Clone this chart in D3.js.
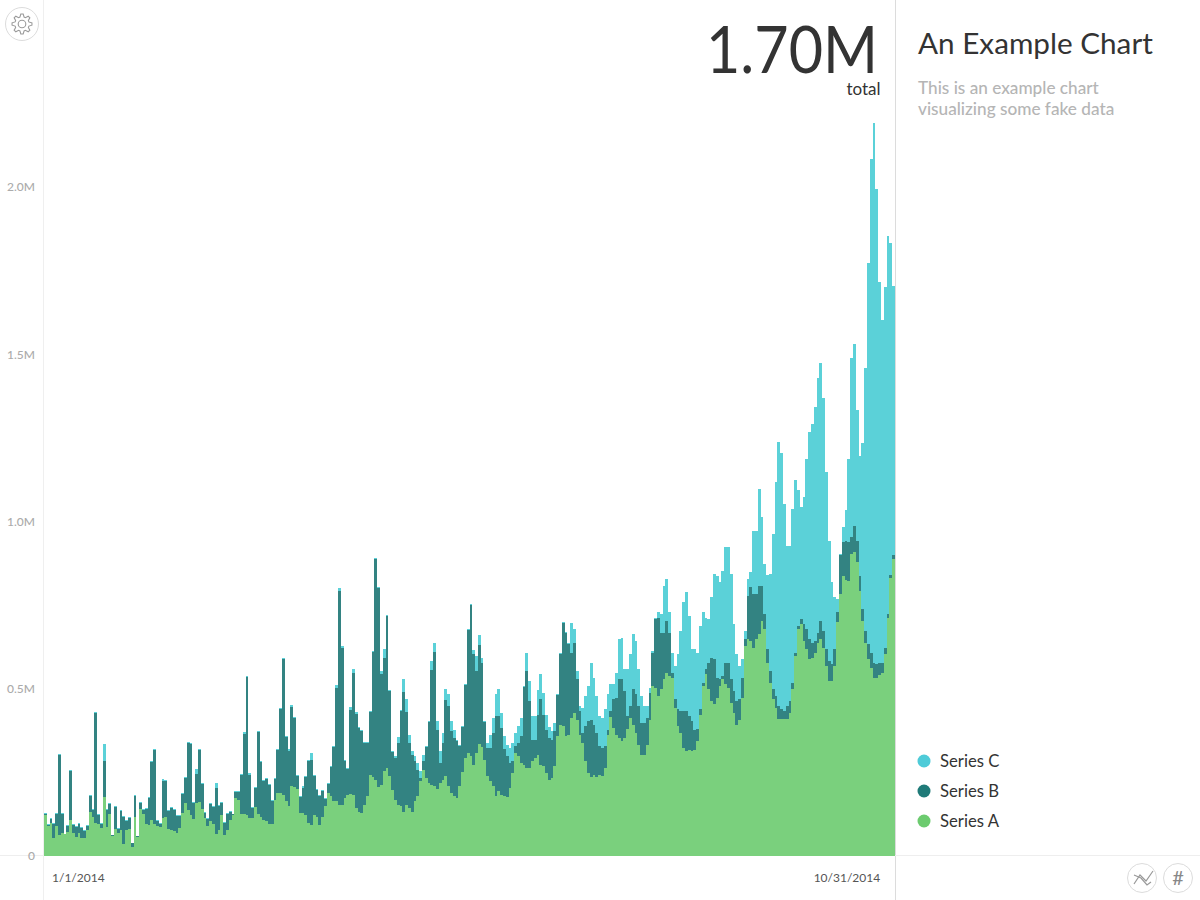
<!DOCTYPE html>
<html><head><meta charset="utf-8">
<script src="https://cdn.jsdelivr.net/npm/d3@7"></script>
<style>
html,body{margin:0;padding:0;background:#fff;overflow:hidden}
svg{display:block}
text{font-family:Lato,"Open Sans",sans-serif}
</style></head><body>
<svg id="chart" width="1200" height="900"></svg>
<script>
// Values in thousands, one per day, 1/1/2014 – 10/31/2014
const seriesA=[122,90,99,54,90,64,70,65,71,107,70,57,69,54,54,77,132,117,100,97,84,177,87,127,60,82,70,77,36,77,82,27,117,58,140,127,97,92,109,97,89,87,115,117,82,79,75,69,84,129,157,137,122,112,157,162,140,115,90,104,97,67,79,122,64,77,107,122,174,167,127,125,122,115,115,147,127,117,109,105,97,97,167,187,189,182,165,150,209,205,200,128,130,123,98,93,123,118,93,118,148,188,178,163,163,153,153,173,183,186,183,143,133,130,153,178,243,236,228,206,213,253,263,238,198,168,153,148,133,153,143,133,163,178,223,258,233,218,213,208,200,218,228,238,208,188,178,173,208,250,293,308,298,273,308,336,326,288,238,223,208,180,193,183,178,176,203,248,308,298,278,273,263,263,283,293,303,273,268,248,228,233,268,358,393,388,358,363,413,428,408,363,338,283,248,235,243,235,243,238,263,363,415,383,363,353,343,353,380,413,393,368,333,303,303,333,408,508,503,478,498,528,548,538,533,443,388,368,323,313,318,313,316,343,423,508,543,498,463,453,473,508,528,513,503,458,428,393,408,473,628,648,643,623,648,663,703,678,578,518,468,443,410,410,410,410,428,498,598,678,693,643,618,588,593,608,638,648,623,568,523,523,568,700,783,836,826,823,903,908,878,793,703,638,588,563,533,533,540,548,603,713,830,888];
const seriesB=[5,3,13,42,37,238,56,0,20,146,22,30,27,30,22,14,46,20,327,25,13,107,52,29,2,65,12,59,82,29,32,12,62,2,17,12,44,82,173,219,17,10,110,106,54,65,63,50,35,57,75,200,214,45,88,154,74,14,21,50,50,137,70,37,35,50,24,3,17,24,114,240,412,127,29,57,245,164,115,124,115,67,62,129,250,407,192,165,236,208,40,49,72,114,187,195,117,78,87,75,22,27,87,162,338,640,470,110,77,250,365,283,250,245,184,161,187,374,659,594,330,340,454,255,112,125,185,285,357,277,195,170,120,80,10,25,92,182,343,402,178,60,110,227,240,185,175,172,122,135,217,369,452,330,245,294,252,112,85,100,160,238,225,200,142,122,75,35,20,40,80,232,290,200,65,55,120,195,155,130,125,115,105,122,212,309,309,272,195,208,120,70,30,105,155,173,150,133,85,85,65,15,18,85,110,175,185,140,38,35,105,115,115,95,95,80,80,100,205,235,170,140,155,130,15,25,50,65,110,120,100,90,62,37,15,10,15,80,130,135,60,20,10,65,75,70,65,70,60,60,20,130,160,160,135,145,105,45,40,35,30,35,38,28,23,38,35,20,10,10,15,50,60,60,45,35,30,55,50,50,60,50,50,28,117,102,117,115,50,78,65,45,35,35,45,45,45,40,38,30,20,10,10,12];
const seriesC=[3,2,3,3,3,3,3,0,3,3,3,3,3,3,3,3,3,3,3,3,3,52,3,3,0,3,2,3,3,3,3,0,3,0,3,3,3,3,3,3,3,3,4,4,3,3,3,3,3,3,3,3,3,3,14,3,3,3,3,3,3,13,3,3,3,3,5,2,4,4,4,7,3,5,3,3,3,3,3,3,3,3,3,3,3,3,3,4,5,4,3,3,6,3,3,20,3,4,3,3,3,3,3,3,10,7,5,5,3,9,10,4,3,3,3,3,3,3,3,3,10,27,3,3,3,5,18,3,38,38,25,10,15,20,20,20,3,3,27,26,25,35,30,35,35,30,23,3,3,3,3,3,3,13,45,30,15,3,15,40,45,65,80,45,38,35,45,55,40,50,55,3,55,60,70,70,73,75,63,45,33,25,25,3,3,3,3,3,90,42,25,15,75,90,105,168,140,110,92,90,110,105,80,47,75,120,125,65,140,155,165,160,110,80,50,35,15,5,5,17,55,140,125,62,60,100,165,240,325,355,300,215,240,228,250,212,155,130,180,255,305,290,315,345,345,315,200,140,100,55,25,50,45,190,190,290,205,150,222,290,465,640,790,767,620,480,465,520,515,405,335,380,510,620,652,698,762,770,697,530,360,245,155,40,3,45,90,250,535,544,390,357,497,785,1140,1475,1612,1422,1138,1025,1077,1130,993,803];
const seriesKeys=["Series A","Series B","Series C"];
const legendLabels=["Series C","Series B","Series A"];
const yTicks=[0,500,1000,1500,2000];
const xTickLabels=["1/1/2014","10/31/2014"];
const chartTitle="An Example Chart";
const chartDesc=["This is an example chart","visualizing some fake data"];
const bigNumber="1.70M";
const bigLabel="total";

const barColors={"Series A":"#7ad07d","Series B":"#338382","Series C":"#5bd1d8"};
const legendColors={"Series C":"#4ecbd8","Series B":"#1f7a78","Series A":"#6ccb6f"};

const svg=d3.select("#chart");
const days=d3.range(seriesA.length);
const rows=days.map(i=>({day:i,"Series A":seriesA[i],"Series B":seriesB[i],"Series C":seriesC[i]}));
const x=d3.scaleBand().domain(days).range([44,895]).padding(0);
const y=d3.scaleLinear().domain([0,2000]).range([856,187]);

// frame
svg.append("line").attr("x1",43.5).attr("x2",43.5).attr("y1",0).attr("y2",900).attr("stroke","#efefef");
svg.append("line").attr("x1",895.5).attr("x2",895.5).attr("y1",0).attr("y2",900).attr("stroke","#dcdcdc");
svg.append("line").attr("x1",0).attr("x2",1200).attr("y1",855.5).attr("y2",855.5).attr("stroke","#eeeeee");

// stacked bars
const layers=d3.stack().keys(seriesKeys)(rows);
svg.append("g").attr("shape-rendering","crispEdges").selectAll("g").data(layers).join("g")
  .attr("fill",d=>barColors[d.key])
  .selectAll("rect").data(d=>d).join("rect")
  .attr("x",d=>x(d.data.day))
  .attr("width",x.bandwidth())
  .attr("y",d=>y(d[1]))
  .attr("height",d=>y(d[0])-y(d[1]));

// y axis
const yAxis=d3.axisLeft(y).tickValues(yTicks).tickSize(0).tickPadding(0)
  .tickFormat(v=>v===0?"0":(v/1000).toFixed(1)+"M");
const gy=svg.append("g").attr("transform","translate(35,0)").call(yAxis);
gy.select(".domain").remove();
gy.selectAll("text").attr("font-size",12).attr("font-weight",500).attr("fill","#ababab").attr("font-family","Lato");

// x labels
svg.append("text").attr("x",x(0)+8).attr("y",881.5).attr("font-size",12).attr("fill","#555").text(xTickLabels[0]);
svg.append("text").attr("x",x(days.length-1)-12).attr("y",881.5).attr("text-anchor","end").attr("font-size",12).attr("fill","#555").text(xTickLabels[1]);

// headline
svg.append("text").attr("x",878).attr("y",73).attr("text-anchor","end").attr("font-size",65)
  .attr("textLength",172).attr("lengthAdjust","spacingAndGlyphs").attr("fill","#333").text(bigNumber);
svg.append("text").attr("x",880.5).attr("y",95).attr("text-anchor","end").attr("font-size",17).attr("fill","#333").text(bigLabel);
svg.append("text").attr("x",918).attr("y",54).attr("font-size",29.7).attr("fill","#333").text(chartTitle);
svg.selectAll("text.desc").data(chartDesc).join("text").attr("class","desc")
  .attr("x",918).attr("y",(d,i)=>94+i*21).attr("font-size",17.2).attr("font-weight",500).attr("fill","#b5b5b5").text(d=>d);

// legend
const leg=svg.selectAll("g.leg").data(legendLabels).join("g").attr("class","leg")
  .attr("transform",(d,i)=>`translate(924,${761+i*30})`);
leg.append("circle").attr("r",6.5).attr("fill",d=>legendColors[d]);
leg.append("text").attr("x",16).attr("y",6).attr("font-size",16.7).attr("fill","#333").text(d=>d);

// icon buttons
function btn(cx,cy,r){return svg.append("circle").attr("cx",cx).attr("cy",cy).attr("r",r).attr("fill","#fff").attr("stroke","#dcdcdc");}
btn(22,24,16.5);btn(1142,878,14.5);btn(1178,878,14.5);
// gear
const gearPts=[];const teeth=8;
for(let i=0;i<teeth;i++){const a=i/teeth*2*Math.PI,s=Math.PI/teeth;
  [[-0.75,7.2],[-0.3,10],[0.3,10],[0.75,7.2]].forEach(([o,r])=>gearPts.push([22+r*Math.cos(a+o*s),24+r*Math.sin(a+o*s)]));}
svg.append("path").attr("d",d3.line().curve(d3.curveLinearClosed)(gearPts)).attr("fill","none").attr("stroke","#999").attr("stroke-width",1.1);
svg.append("circle").attr("cx",22).attr("cy",24).attr("r",3.8).attr("fill","none").attr("stroke","#999").attr("stroke-width",1.1);
// chart icon
const lineIcon=d3.line();
svg.append("path").attr("d",lineIcon([[1134,884],[1140,875],[1146,881],[1153,871]])).attr("fill","none").attr("stroke","#999").attr("stroke-width",1.2);
svg.append("path").attr("d",lineIcon([[1134,875],[1141,878],[1147,885],[1151,882]])).attr("fill","none").attr("stroke","#999").attr("stroke-width",1.2);
svg.append("text").attr("x",1178).attr("y",885).attr("text-anchor","middle").attr("font-size",20).attr("fill","#888").text("#");
</script>
</body></html>
